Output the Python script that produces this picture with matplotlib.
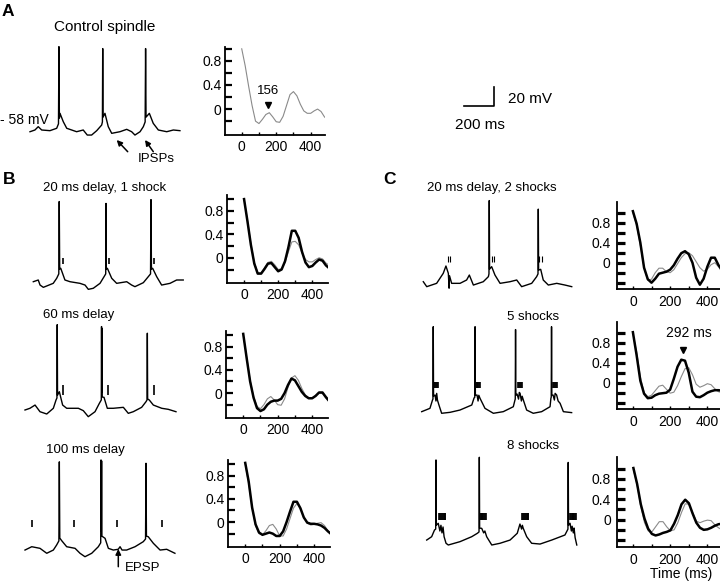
import numpy as np
import matplotlib
matplotlib.use('Agg')
import matplotlib.pyplot as plt

plt.rcParams['font.family'] = ['Liberation Sans', 'DejaVu Sans']

# autocorrelograms: lag (ms) and correlation
lags = list(range(0, 520, 20))

acg_ctrl_A = [1.0, 0.72, 0.38, 0.06, -0.2, -0.24, -0.17, -0.09, -0.06, -0.13, -0.21, -0.22, -0.12,
              0.06, 0.24, 0.29, 0.22, 0.08, -0.03, -0.07, -0.07, -0.03, 0.0, -0.04, -0.13, -0.18]

acg_B1 = [1.0, 0.62, 0.22, -0.1, -0.27, -0.27, -0.19, -0.1, -0.09, -0.16, -0.23, -0.2, -0.06,
          0.18, 0.46, 0.46, 0.34, 0.1, -0.08, -0.16, -0.14, -0.08, -0.03, -0.05, -0.13, -0.18]
ctrl_B1 = [1.0, 0.64, 0.24, -0.08, -0.25, -0.26, -0.17, -0.08, -0.06, -0.12, -0.2, -0.19, -0.08,
           0.1, 0.27, 0.28, 0.22, 0.08, -0.03, -0.07, -0.07, -0.03, 0.0, -0.02, -0.09, -0.13]

acg_B2 = [1.02, 0.6, 0.2, -0.08, -0.26, -0.31, -0.28, -0.2, -0.15, -0.13, -0.13, -0.1, 0.0,
          0.14, 0.25, 0.22, 0.12, 0.02, -0.05, -0.09, -0.09, -0.05, 0.01, 0.01, -0.07, -0.14]
ctrl_B2 = [1.0, 0.62, 0.22, -0.06, -0.23, -0.27, -0.2, -0.1, -0.06, -0.12, -0.2, -0.21, -0.1,
           0.1, 0.26, 0.30, 0.22, 0.08, -0.03, -0.08, -0.09, -0.04, 0.0, -0.01, -0.09, -0.16]

acg_B3 = [1.02, 0.7, 0.25, -0.04, -0.18, -0.22, -0.2, -0.18, -0.2, -0.24, -0.24, -0.16, 0.0,
          0.18, 0.35, 0.35, 0.24, 0.08, -0.01, -0.03, -0.03, -0.04, -0.06, -0.1, -0.16, -0.21]
ctrl_B3 = [1.0, 0.66, 0.24, -0.06, -0.2, -0.22, -0.15, -0.06, -0.04, -0.12, -0.24, -0.24, -0.12,
           0.06, 0.24, 0.32, 0.24, 0.08, -0.02, -0.05, -0.04, -0.02, -0.01, -0.06, -0.15, -0.22]

acg_C1 = [1.03, 0.78, 0.4, -0.1, -0.33, -0.4, -0.32, -0.22, -0.2, -0.18, -0.14, -0.05, 0.08,
          0.19, 0.23, 0.17, 0.0, -0.3, -0.44, -0.32, -0.08, 0.1, 0.1, -0.05, -0.15, -0.2]
ctrl_C1 = [1.0, 0.75, 0.35, -0.1, -0.35, -0.33, -0.2, -0.11, -0.11, -0.18, -0.2, -0.14, -0.02,
           0.1, 0.18, 0.2, 0.14, 0.02, -0.1, -0.17, -0.13, -0.04, 0.0, -0.08, -0.2, -0.25]

acg_C2 = [1.01, 0.55, 0.04, -0.22, -0.31, -0.3, -0.25, -0.22, -0.21, -0.2, -0.14, 0.08, 0.32,
          0.46, 0.44, 0.2, -0.18, -0.28, -0.29, -0.25, -0.2, -0.17, -0.15, -0.15, -0.16, -0.17]
ctrl_C2 = [0.98, 0.62, 0.12, -0.2, -0.28, -0.25, -0.16, -0.07, -0.05, -0.13, -0.21, -0.19, -0.06,
           0.12, 0.28, 0.3, 0.16, -0.03, -0.09, -0.06, -0.02, -0.04, -0.12, -0.18, -0.2, -0.22]

acg_C3 = [1.01, 0.7, 0.3, 0.02, -0.18, -0.28, -0.31, -0.29, -0.26, -0.24, -0.21, -0.08, 0.09,
          0.3, 0.39, 0.32, 0.12, -0.06, -0.16, -0.2, -0.19, -0.16, -0.12, -0.09, -0.08, -0.08]
ctrl_C3 = [0.98, 0.68, 0.26, -0.06, -0.22, -0.24, -0.14, -0.04, -0.04, -0.14, -0.22, -0.2, -0.06,
           0.14, 0.31, 0.3, 0.14, -0.03, -0.06, -0.03, -0.01, -0.02, -0.1, -0.16, -0.2, -0.22]

# intracellular traces: (time ms, Vm mV)
trace_A = [(0, -70.3), (33, -68.5), (55, -65), (78, -68.5), (133, -69.2), (178, -66.7), (190, -62),
           (193, 19), (196, -56), (200, -51), (222, -59.8), (245, -66.7), (311, -70.3), (355, -68.5),
           (382, -73.8), (411, -73.8), (445, -69.2), (478, -63.3), (483, -60), (485, 17), (487, -55),
           (500, -51), (522, -65), (545, -72), (600, -70.3), (645, -67.8), (678, -70.3), (700, -73.8),
           (734, -70.3), (756, -65), (768, -60), (771, 17), (774, -55), (796, -51), (822, -61.5),
           (856, -68.5), (912, -70.3), (956, -68.5), (1000, -69.2)]

trace_B1 = [(0, -68.2), (33, -66.4), (45, -71.7), (67, -74.1), (133, -69.9), (156, -64.6), (170, -60),
            (173, 16), (176, -55), (183, -54.1), (211, -66.4), (245, -68.2), (311, -69.9), (345, -71.7),
            (367, -76.2), (400, -75.1), (445, -69.9), (472, -62.9), (483, -60), (485, 14), (487, -55),
            (494, -54.1), (523, -64.6), (556, -69.9), (623, -68.2), (656, -71.7), (678, -73.4),
            (734, -69.2), (767, -62.9), (782, -60), (785, 18), (788, -55), (796, -54.1), (823, -62.9),
            (856, -71.7), (912, -69.9), (956, -66.4), (1000, -66.4)]
stims_B1 = [196, 505, 805]

trace_B2 = [(0, -70.6), (33, -68.8), (67, -65.4), (100, -72.4), (145, -74.8), (189, -68.8), (207, -60.1),
            (213, -58), (215, 19), (217, -55), (229, -51.4), (251, -65.4), (278, -68.8), (356, -68.8),
            (389, -71.3), (422, -77.6), (467, -72.4), (496, -63.6), (509, -60), (510.5, 17), (512, -52),
            (513.5, 15), (515, -57), (527, -57.3), (549, -68.8), (589, -68.8), (656, -67.8), (689, -74.1),
            (722, -72.4), (778, -67.8), (807, -61.9), (814, -60), (816, 10), (818, -59), (829, -60.1),
            (856, -65.4), (912, -68.8), (956, -69.9), (1007, -72.4)]
stims_B2 = [251, 555, 862]

trace_B3 = [(0, -69.6), (45, -66.1), (100, -67.8), (145, -73), (189, -69.6), (211, -64.3), (226, -60),
            (229, 23), (232, -57), (245, -59.8), (278, -66.1), (334, -67.8), (367, -73), (400, -76.6),
            (445, -73), (489, -66.1), (505, -62), (507, 25), (509, -50), (511, 24), (513, -55),
            (534, -57.3), (556, -67.8), (589, -69.6), (622, -68.8), (634, -66.1), (647, -69.6),
            (678, -69.6), (734, -66.1), (789, -60.8), (804, -58), (807, 21.5), (810, -55), (822, -55.6),
            (856, -62.5), (901, -69.6), (945, -68.8), (1000, -73)]
stims_B3 = [45, 329, 612, 912]

trace_C1 = [(0, -68.2), (23, -73.4), (89, -69.9), (133, -59.4), (151, -51.7), (167, -59.4), (172, -75),
            (175, -62), (189, -69.9), (245, -69.9), (289, -66.4), (307, -61.2), (334, -71.7), (400, -68.2),
            (434, -62.9), (438, -60), (440, 17), (442, -55), (456, -52.4), (478, -61.2), (512, -69.9),
            (578, -68.2), (623, -66.4), (656, -73.4), (723, -69.9), (756, -62.9), (765, -60), (767, 8),
            (769, -56), (783, -55.2), (800, -66.4), (834, -71.7), (890, -69.9), (945, -71.7), (990, -73.4)]
stims_C1 = [163, 456, 774]

trace_C2 = [(0, -69.2), (55, -65.7), (72, -57), (75, -56), (77, 20), (79, -53), (89, -51.7), (95, -58),
            (100, -50), (105, -57), (115, -62.2), (133, -70.9), (189, -69.9), (255, -67.5), (334, -62.2),
            (349, -54.9), (354, -54), (356, 20), (358, -52), (369, -51.7), (376, -58), (381, -52),
            (389, -55.2), (422, -65.7), (478, -70.9), (544, -69.2), (611, -64), (622, -57), (624, -56),
            (626, 17), (628, -52), (636, -50.7), (646, -56), (651, -49), (656, -49.9), (665, -58),
            (670, -53), (678, -57), (700, -67.5), (744, -70.9), (800, -69.2), (856, -64), (862, -54.9),
            (864, -54), (866, 20), (868, -52), (876, -51.7), (885, -57), (890, -50), (900, -51.7),
            (910, -58), (923, -60.4), (945, -69.2), (1000, -70.2)]
stims_C2 = [83, 366, 644, 878]

trace_C3 = [(0, -67.5), (33, -64), (52, -57), (60, -56), (62, 16.6), (64, -52), (77, -49.9), (88, -58),
            (95, -52), (102, -60), (109, -53.8), (116, -64), (129, -70.9), (144, -72.7), (222, -69.2),
            (300, -64), (338, -60.4), (349, -59), (351, 19.4), (353, -55), (367, -55.2), (380, -60),
            (388, -58), (400, -64), (434, -72.7), (489, -70.9), (556, -67.5), (604, -60.4), (622, -50.7),
            (633, -56), (638, -52), (644, -55.2), (667, -64), (700, -70.9), (756, -71.7), (834, -67.5),
            (922, -62.2), (939, -57), (942, -56), (944, 14), (946, -52), (956, -49.9), (965, -58),
            (970, -53), (978, -60), (983, -54.9), (990, -65), (1001, -72.7)]
stims_C3 = [83, 354, 637, 955]

W, H = 720, 584
MS_PER_PX = 6.67
MV_PER_PX = 1.05
V_REF = -58

fig = plt.figure(figsize=(7.2, 5.84), dpi=100)


def px_axes(left, top, width, height):
    return fig.add_axes([left / W, 1 - (top + height) / H, width / W, height / H])


def fig_pt(x, y):
    return (x / W, 1 - y / H)


def trace_axes(x0, yref, t_lo=-30, t_hi=1030, v_lo=-95, v_hi=35):
    left = x0 + t_lo / MS_PER_PX
    right = x0 + t_hi / MS_PER_PX
    top = yref - (v_hi - V_REF) / MV_PER_PX
    bottom = yref + (V_REF - v_lo) / MV_PER_PX
    ax = px_axes(left, top, right - left, bottom - top)
    ax.set_xlim(t_lo, t_hi)
    ax.set_ylim(v_lo, v_hi)
    ax.axis('off')
    ax.patch.set_alpha(0)
    return ax


def draw_trace(x0, yref, trace, stims=(), n_shocks=1, isi=6, stim_v=(-49, -43), stim_lw=1.2):
    ax = trace_axes(x0, yref)
    t, v = np.array(trace).T
    ax.plot(t, v, color='k', lw=1.0)
    for s in stims:
        ax.vlines([s + k * isi for k in range(n_shocks)], stim_v[0], stim_v[1],
                  color='k', lw=stim_lw)
    return ax


def acg_axes(left, top, width, height, xlim, ylim, heavy=False):
    ax = px_axes(left, top, width, height)
    ax.set_xlim(xlim)
    ax.set_ylim(ylim)
    ax.patch.set_alpha(0)
    for s in ['top', 'right']:
        ax.spines[s].set_visible(False)
    for s in ['left', 'bottom']:
        ax.spines[s].set_linewidth(1.3)
    yt = [1.0, 0.8, 0.6, 0.4, 0.2, 0.0, -0.2] + ([-0.4] if heavy else [])
    names = {0.8: '0.8', 0.4: '0.4', 0.0: '0'}
    ax.set_yticks(yt)
    ax.set_yticklabels([names.get(round(y, 1), '') for y in yt])
    ax.set_xticks([0, 200, 400])
    ax.set_xticks([100, 300], minor=True)
    ax.tick_params(axis='y', direction='in', length=6 if heavy else 5,
                   width=2.3 if heavy else 1.6, pad=4.5 if heavy else 2.5, labelsize=10)
    ax.tick_params(axis='x', which='both', direction='in', length=2.5, width=1,
                   pad=4.5 if heavy else 3.5, labelsize=10)
    return ax


def plot_acg(ax, ctrl, test=None):
    ax.plot(lags, ctrl, color='#8a8a8a', lw=0.8)
    if test is not None:
        ax.plot(lags, test, color='k', lw=1.8)


# ---- panel A
draw_trace(30, 120, trace_A)
axA = acg_axes(225, 47, 100, 88, (-97, 483), (-0.43, 1.03))
plot_acg(axA, acg_ctrl_A)
axA.plot([154], [0.075], marker='v', color='k', ms=5)
axA.text(154, 0.3, '156', ha='center', va='center', fontsize=9.5)

# scale bar
sb = trace_axes(464, 106)
sb.plot([0, 200, 200], [-58, -58, -38], color='k', lw=1.2)
fig.text(*fig_pt(508, 99.3), '20 mV', fontsize=11, va='center')
fig.text(*fig_pt(455, 125), '200 ms', fontsize=11, va='center')

# ---- panel B
draw_trace(33.3, 272, trace_B1, stims_B1, stim_v=(-49.6, -43))
draw_trace(25, 398, trace_B2, stims_B2, stim_v=(-54.9, -44.4))
draw_trace(25, 539, trace_B3, stims_B3, stim_v=(-45, -38))

b_xlim, b_ylim = (-100, 492), (-0.43, 1.07)
axB1 = acg_axes(227, 195, 101, 88, b_xlim, b_ylim)
plot_acg(axB1, ctrl_B1, acg_B1)
axB2 = acg_axes(226, 331, 102, 87, b_xlim, b_ylim)
plot_acg(axB2, ctrl_B2, acg_B2)
axB3 = acg_axes(228, 460, 102, 87, b_xlim, b_ylim)
plot_acg(axB3, ctrl_B3, acg_B3)

# ---- panel C
draw_trace(423.3, 272, trace_C1, stims_C1, n_shocks=2, isi=18, stim_v=(-47, -41), stim_lw=0.8)
draw_trace(421.7, 401, trace_C2, stims_C2, n_shocks=5, isi=6, stim_v=(-44.7, -37.7))
draw_trace(426.7, 531, trace_C3, stims_C3, n_shocks=8, isi=6, stim_v=(-46.4, -39.4))

c_xlim, c_ylim = (-87, 468), (-0.53, 1.22)
axC1 = acg_axes(616.7, 201.7, 103.3, 87.5, c_xlim, c_ylim, heavy=True)
plot_acg(axC1, ctrl_C1, acg_C1)
axC2 = acg_axes(616.7, 321.7, 103.3, 87.5, c_xlim, c_ylim, heavy=True)
plot_acg(axC2, ctrl_C2, acg_C2)
axC2.plot([270], [0.66], marker='v', color='k', ms=5)
axC2.text(300, 1.0, '292 ms', ha='center', va='center', fontsize=10)
axC3 = acg_axes(617.3, 457.3, 102.7, 89.4, c_xlim, c_ylim, heavy=True)
plot_acg(axC3, ctrl_C3, acg_C3)

# ---- labels
fig.text(*fig_pt(2, 11), 'A', fontsize=12.5, fontweight='bold', va='center')
fig.text(*fig_pt(3, 180), 'B', fontsize=12.5, fontweight='bold', va='center')
fig.text(*fig_pt(383, 180), 'C', fontsize=12.5, fontweight='bold', va='center')
fig.text(*fig_pt(104.5, 26.5), 'Control spindle', fontsize=11, ha='center', va='center')
fig.text(*fig_pt(0, 120), '- 58 mV', fontsize=10, va='center')
fig.text(*fig_pt(137.3, 159), 'IPSPs', fontsize=9.5, va='center')
fig.text(*fig_pt(42.7, 188.3), '20 ms delay, 1 shock', fontsize=9.5, va='center')
fig.text(*fig_pt(42.7, 315), '60 ms delay', fontsize=9.5, va='center')
fig.text(*fig_pt(46, 450), '100 ms delay', fontsize=9.5, va='center')
fig.text(*fig_pt(125, 568), 'EPSP', fontsize=9.5, va='center')
fig.text(*fig_pt(426.7, 188.3), '20 ms delay, 2 shocks', fontsize=9.5, va='center')
fig.text(*fig_pt(506.7, 316.7), '5 shocks', fontsize=9.5, va='center')
fig.text(*fig_pt(506.7, 446), '8 shocks', fontsize=9.5, va='center')
fig.text(*fig_pt(650, 574), 'Time (ms)', fontsize=10, va='center')

arrow = dict(arrowstyle='-|>', lw=1.1, color='k', mutation_scale=8, shrinkA=0, shrinkB=0)
for head, tail in [((116.7, 140), (127.7, 151.7)), ((145, 140), (153.3, 151.7)),
                   ((118.3, 549), (118.3, 566.7))]:
    fig.add_artist(plt.Annotation('', xy=fig_pt(*head), xytext=fig_pt(*tail),
                                  xycoords='figure fraction', arrowprops=arrow))

fig.savefig('out.png', dpi=100, facecolor='white')
